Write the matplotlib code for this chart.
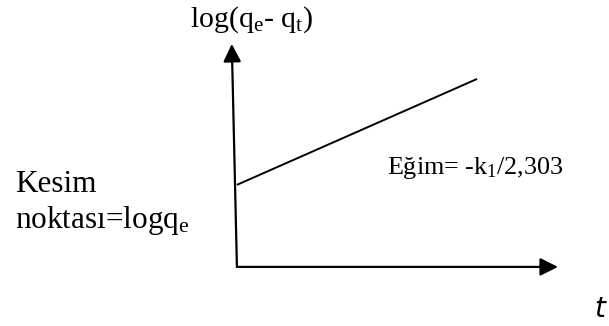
import matplotlib
matplotlib.use("Agg")
import matplotlib.pyplot as plt

# Schematic data (arbitrary units)
x_axis_t = [0.0, 10.0]          # horizontal axis: start, arrow tip
y_axis_t = [0.0, -0.16]         # vertical axis x at bottom / top (slight tilt)
y_axis_y = [0.0, 10.0]          # vertical axis: start, arrow tip
line_t = [0.0, 7.48]            # straight line log(qe-qt) vs t
line_y = [3.68, 8.43]

ylabel_text = r'log(q$_\mathregular{e}$- q$_\mathregular{t}$)'
xlabel_text = 't'
intercept_lines = ['Kesim', r'noktası=logq$_\mathregular{e}$']
slope_text = r'Eğim= -k$_\mathregular{1}$/2,303'

plt.rcParams['mathtext.fontset'] = 'custom'
plt.rcParams['mathtext.rm'] = 'Liberation Serif'
plt.rcParams['mathtext.it'] = 'Liberation Serif:italic'
plt.rcParams['font.family'] = ['Liberation Serif', 'DejaVu Serif']

fig = plt.figure(figsize=(6.09, 3.26), dpi=100)
ax = fig.add_axes([0, 0, 1, 1])
ax.set_xlim(-7.38, 11.59)
ax.set_ylim(-2.65, 11.97)
ax.axis('off')

arrow_kw = dict(arrowstyle='-|>', mutation_scale=27, lw=1.6, color='black',
                shrinkA=0, shrinkB=0)
# horizontal axis
ax.annotate('', xy=(x_axis_t[1], 0), xytext=(x_axis_t[0], 0), arrowprops=arrow_kw)
# vertical axis
ax.annotate('', xy=(y_axis_t[1], y_axis_y[1]), xytext=(y_axis_t[0], y_axis_y[0]),
            arrowprops=arrow_kw)
# line
ax.plot(line_t, line_y, color='black', lw=1.4, solid_capstyle='butt')

ax.text(-1.46, 10.76, ylabel_text, fontsize=21.5, ha='left', va='baseline')
ax.text(-6.92, 3.36, intercept_lines[0], fontsize=22.5, ha='left', va='baseline')
ax.text(-6.92, 1.75, intercept_lines[1], fontsize=22.5, ha='left', va='baseline')
ax.text(4.67, 4.17, slope_text, fontsize=18.8, ha='left', va='baseline')
ax.text(11.12, -2.24, xlabel_text, fontsize=20, ha='left', va='baseline',
        family='DejaVu Sans', style='italic')

fig.savefig('out.png', dpi=100)
